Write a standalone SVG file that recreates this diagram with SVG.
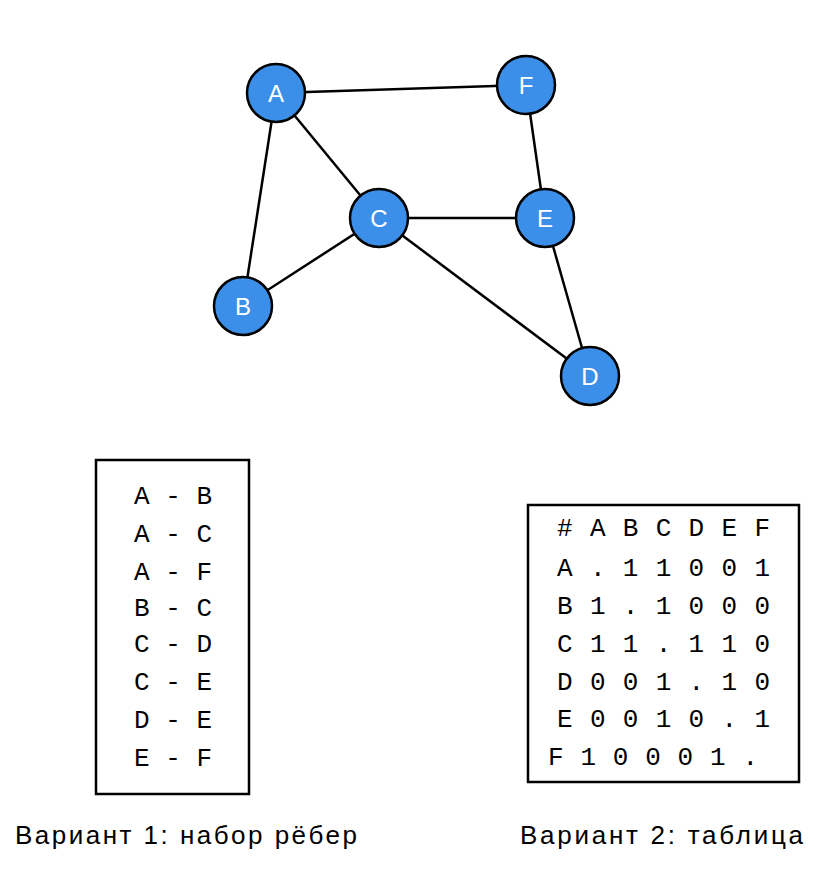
<svg xmlns="http://www.w3.org/2000/svg" width="827" height="872" viewBox="0 0 827 872">
<style>
.e{stroke:#000;stroke-width:2.5;fill:none}
.n circle{fill:#3b8fe8;stroke:#000;stroke-width:2.5}
.n text{font-family:"Liberation Sans",sans-serif;font-size:24px;fill:#fff;text-anchor:middle;dominant-baseline:central}
.t{font-family:"Liberation Mono",monospace;font-size:26px;fill:#000}
.c{font-family:"Liberation Sans",sans-serif;font-size:26px;fill:#000}
.b{fill:#fff;stroke:#000;stroke-width:2.5}
</style>
<rect width="827" height="872" fill="#fff"/>
<g id="connectors">
<line class="e" x1="276" y1="93" x2="526" y2="85"/>
<line class="e" x1="276" y1="93" x2="243" y2="306"/>
<line class="e" x1="276" y1="93" x2="379" y2="218"/>
<line class="e" x1="243" y1="306" x2="379" y2="218"/>
<line class="e" x1="379" y1="218" x2="545" y2="218"/>
<line class="e" x1="379" y1="218" x2="590" y2="376"/>
<line class="e" x1="526" y1="85" x2="545" y2="218"/>
<line class="e" x1="545" y1="218" x2="590" y2="376"/>
</g>
<g id="A" class="n"><circle cx="276" cy="93" r="29"/><text x="276" y="93">A</text></g>
<g id="F" class="n"><circle cx="526" cy="85" r="29"/><text x="526" y="85">F</text></g>
<g id="C" class="n"><circle cx="379" cy="218" r="29"/><text x="379" y="218">C</text></g>
<g id="E" class="n"><circle cx="545" cy="218" r="29"/><text x="545" y="218">E</text></g>
<g id="B" class="n"><circle cx="243" cy="306" r="29"/><text x="243" y="306">B</text></g>
<g id="D" class="n"><circle cx="590" cy="376" r="29"/><text x="590" y="376">D</text></g>
<g id="edges-box">
<rect class="b" x="96" y="460" width="153" height="334"/>
<g class="t" text-anchor="middle">
<text x="173" y="504">A - B</text>
<text x="173" y="542">A - C</text>
<text x="173" y="580">A - F</text>
<text x="173" y="616">B - C</text>
<text x="173" y="652">C - D</text>
<text x="173" y="690">C - E</text>
<text x="173" y="728">D - E</text>
<text x="173" y="766">E - F</text>
</g>
</g>
<g id="table-box">
<rect class="b" x="528" y="505" width="271" height="277"/>
<g class="t">
<text x="557" y="536" textLength="213">#ABCDEF</text>
<text x="557" y="576" textLength="213">A.11001</text>
<text x="557" y="614" textLength="213">B1.1000</text>
<text x="557" y="652" textLength="213">C11.110</text>
<text x="557" y="690" textLength="213">D001.10</text>
<text x="557" y="727" textLength="213">E0010.1</text>
<text x="548" y="765" textLength="210">F10001.</text>
</g>
</g>
<text class="c" x="15" y="844" textLength="342">Вариант 1: набор рёбер</text>
<text class="c" x="520" y="844" textLength="283">Вариант 2: таблица</text>
</svg>
